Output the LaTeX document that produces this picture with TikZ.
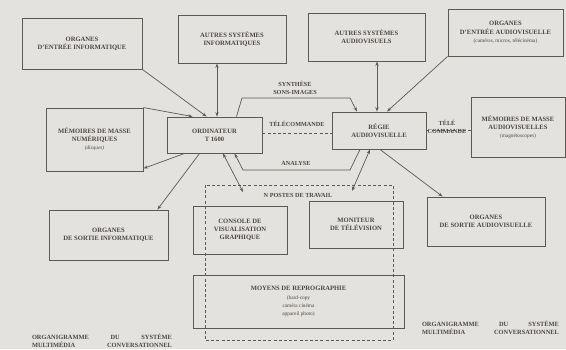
\documentclass[tikz,border=0pt]{standalone}
\usepackage{fontspec}
\setmainfont{Liberation Serif}
\usetikzlibrary{arrows.meta,positioning}
\definecolor{paper}{HTML}{E4E2DE}
\definecolor{ink}{HTML}{4A4643}
\definecolor{trait}{HTML}{5C5854}
\tikzset{
  bloc/.style={draw=trait,line width=0.9pt,inner sep=2pt,align=center,text=ink,
    font=\fontsize{6.6}{8.2}\selectfont\bfseries},
  lien/.style={draw=trait,line width=0.7pt},
  fleche/.style={lien,-{Stealth[length=4.5pt,width=3.2pt]}},
  deuxsens/.style={lien,{Stealth[length=4.5pt,width=3.2pt]}-{Stealth[length=4.5pt,width=3.2pt]}},
  tele/.style={lien,dash pattern=on 3pt off 2.2pt},
  etiq/.style={text=ink,inner sep=1pt,align=center,font=\fontsize{6.2}{7.6}\selectfont\bfseries},
  legende/.style={text=ink,inner sep=0pt,align=center,font=\fontsize{6.4}{8.2}\selectfont\bfseries}
}
\newcommand{\petit}[1]{{\fontsize{5.3}{7.2}\selectfont\mdseries #1}}
\newcommand{\bloc}[6]{%
  \node[bloc,minimum width=#4pt,minimum height=#5pt] (#1) at (#2,#3) {#6};
}
\begin{document}
\begin{tikzpicture}[x=1pt,y=-1pt]
  \useasboundingbox (0,0) rectangle (566,349);
  \fill[paper] (0,0) rectangle (566,349);
  \bloc{entinf}{82}{43.5}{120}{51}{ORGANES\\D'ENTRÉE INFORMATIQUE}
  \bloc{autinf}{232}{39}{108}{48}{AUTRES SYSTÈMES\\INFORMATIQUES}
  \bloc{autav}{366.5}{37}{117}{48}{AUTRES SYSTÈMES\\AUDIOVISUELS}
  \bloc{entav}{505.5}{32.5}{115}{47}{ORGANES\\D'ENTRÉE AUDIOVISUELLE\\\petit{(caméras, micros, télécinéma)}}
  \bloc{memnum}{94.5}{139.5}{97}{63}{MÉMOIRES DE MASSE\\NUMÉRIQUES\\\petit{\itshape(disques)}}
  \bloc{ordi}{214.5}{135}{95}{36}{ORDINATEUR\\T 1600}
  \bloc{regie}{379}{130.5}{94}{37}{RÉGIE\\AUDIOVISUELLE}
  \bloc{memav}{518}{127}{94}{60}{MÉMOIRES DE MASSE\\AUDIOVISUELLES\\\petit{(magnétoscopes)}}
  \bloc{sorinf}{108.5}{235}{119}{50}{ORGANES\\DE SORTIE INFORMATIQUE}
  \bloc{console}{240}{230}{94}{48}{CONSOLE DE\\VISUALISATION\\GRAPHIQUE}
  \bloc{moniteur}{356}{224.5}{94}{47}{MONITEUR\\DE TÉLÉVISION}
  \bloc{sorav}{486}{221.5}{118}{49}{ORGANES\\DE SORTIE AUDIOVISUELLE}
  \bloc{repro}{298.5}{301.5}{211}{53}{MOYENS DE REPROGRAPHIE\\\petit{(hard-copy}\\\petit{caméra cinéma}\\\petit{appareil photo)}}
  \draw[tele] (205,185) rectangle (393,340);
  \coordinate (syn1) at (242,98);
  \coordinate (syn2) at (350,98);
  \coordinate (ana1) at (350,170);
  \coordinate (ana2) at (243,170);
  \coordinate (poste1) at (243,192);
  \coordinate (poste2) at (352,191);
  \draw[fleche] (entinf.south east) -- ([xshift=40pt]ordi.north west);
  \draw[fleche] (memnum.north east) -- ([xshift=26pt]ordi.north west);
  \draw[fleche] ([xshift=18pt]ordi.south west) -- ([yshift=3pt]memnum.south east);
  \draw[fleche] ([xshift=33pt]ordi.south west) -- ([xshift=-11pt]sorinf.north east);
  \draw[deuxsens] ([xshift=-15pt]autinf.south) -- ([xshift=-15pt]autinf.south |- ordi.north);
  \draw[fleche] ([xshift=22pt]ordi.north) -- (syn1) -- (syn2) -- ([xshift=-22pt]regie.north);
  \draw[fleche] ([xshift=-19pt]regie.south) -- (ana1) -- (ana2) -- ([xshift=20pt]ordi.south);
  \draw[tele] ([yshift=2pt]ordi.east) -- ([yshift=2pt]ordi.east -| regie.west);
  \draw[deuxsens] ([xshift=8.5pt]ordi.south) -- (poste1);
  \draw[deuxsens] ([xshift=-9pt]regie.south) -- (poste2);
  \draw[fleche] ([xshift=1pt]regie.south) -- ([xshift=16pt]sorav.north west);
  \draw[deuxsens] ([xshift=10.5pt]autav.south) -- ([xshift=10.5pt]autav.south |- regie.north);
  \draw[fleche] (entav.south west) -- ([xshift=8pt]regie.north);
  \draw[tele] (regie.east) -- (regie.east -| memav.west);
  \node[etiq] (synthese) at (295,88) {SYNTHÈSE\\SONS-IMAGES};
  \node[etiq] (telecom) at (297,124) {TÉLÉCOMMANDE};
  \node[etiq] (analyse) at (296,163) {ANALYSE};
  \node[etiq] (postes) at (298,195) {N POSTES DE TRAVAIL};
  \node[etiq] (telecom2) at (447,127) {TÉLÉ\\COMMANDE};
  \node[legende] (titre1) at (102,340.5) {\makebox[140pt]{ORGANIGRAMME\hfill DU\hfill SYSTÈME}\\\makebox[140pt]{MULTIMÉDIA\hfill CONVERSATIONNEL}};
  \node[legende] (titre2) at (490.5,327.5) {\makebox[137pt]{ORGANIGRAMME\hfill DU\hfill SYSTÈME}\\\makebox[137pt]{MULTIMÉDIA\hfill CONVERSATIONNEL}};
\end{tikzpicture}
\end{document}
